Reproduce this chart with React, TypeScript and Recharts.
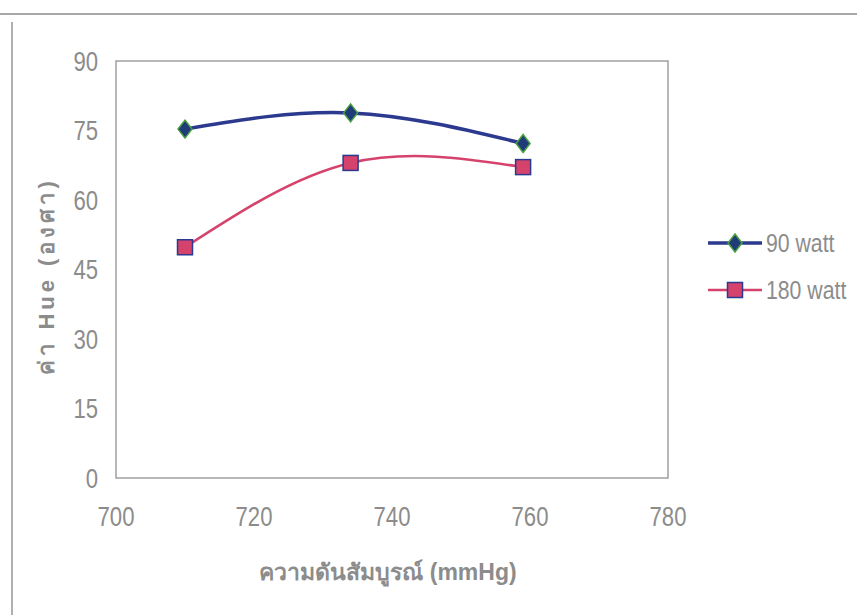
import React from "react";
import { LineChart, Line, XAxis, YAxis, ReferenceArea } from "recharts";

const pressure = [710, 734, 759];
const watt90 = [75.3, 78.8, 72.2];
const watt180 = [49.8, 68.0, 67.1];
const xTicks = [700, 720, 740, 760, 780];
const yTicks = [0, 15, 30, 45, 60, 75, 90];
const seriesNames = ["90 watt", "180 watt"];

const data = pressure.map((p, i) => ({ p, a: watt90[i], b: watt180[i] }));

const FONT = "'Liberation Sans', Arial, sans-serif";
const TFONT = "'Liberation Sans', 'Noto Sans', sans-serif";
const TXT = "#8c8c8c";
const BLUE = "#2b3a8f";
const PINK = "#d5436c";
const SQ = 0.82;

const XTick = (props: any) => {
  const { x, y, payload } = props;
  return (
    <text transform={`translate(${x},${y + 46}) scale(${SQ},1)`} textAnchor="middle" fill={TXT} fontSize={27} fontFamily={FONT}>
      {payload.value}
    </text>
  );
};

const YTick = (props: any) => {
  const { x, y, payload } = props;
  return (
    <text transform={`translate(${x - 16},${y + 9.5}) scale(${SQ},1)`} textAnchor="end" fill={TXT} fontSize={27} fontFamily={FONT}>
      {payload.value}
    </text>
  );
};

const Diamond = (props: any) => {
  const { cx, cy } = props;
  if (cx == null || cy == null) return null;
  return (
    <path
      d={`M${cx},${cy - 9} L${cx + 7},${cy} L${cx},${cy + 9} L${cx - 7},${cy} Z`}
      fill="#1f3b78"
      stroke="#4aa040"
      strokeWidth={1.5}
    />
  );
};

const Square = (props: any) => {
  const { cx, cy } = props;
  if (cx == null || cy == null) return null;
  return (
    <rect x={cx - 7.5} y={cy - 7.5} width={15} height={15} fill={PINK} stroke="#2b3a8f" strokeWidth={1.5} />
  );
};

export default function App() {
  return (
    <div style={{ position: "absolute", left: 0, top: 0, width: 857, height: 615, background: "#fff", overflow: "hidden" }}>
      <div style={{ position: "absolute", left: 0, top: 13, width: 857, height: 2, background: "#a8a8a8" }} />
      <div style={{ position: "absolute", left: 11, top: 22, width: 1.5, height: 600, background: "#b0b0b0" }} />
      <LineChart
        width={857}
        height={615}
        data={data}
        margin={{ top: 61, right: 189, bottom: 77, left: 0 }}
      >
        <XAxis
          dataKey="p"
          type="number"
          domain={[700, 780]}
          ticks={xTicks}
          axisLine={false}
          tickLine={false}
          tickSize={0}
          height={60}
          tick={<XTick />}
        />
        <YAxis
          type="number"
          domain={[0, 90]}
          ticks={yTicks}
          axisLine={false}
          tickLine={false}
          tickSize={0}
          width={116}
          tick={<YTick />}
        />
        <ReferenceArea x1={700} x2={780} y1={0} y2={90} fill="none" stroke="#a0a0a0" strokeWidth={1.5} ifOverflow="visible" />
        <Line dataKey="a" name={seriesNames[0]} type="natural" stroke={BLUE} strokeWidth={3.5} dot={<Diamond />} isAnimationActive={false} />
        <Line dataKey="b" name={seriesNames[1]} type="natural" stroke={PINK} strokeWidth={2.5} dot={<Square />} isAnimationActive={false} />
      </LineChart>
      <div
        style={{
          position: "absolute",
          left: 46,
          top: 276,
          transform: "translate(-50%, -50%) rotate(-90deg)",
          whiteSpace: "nowrap",
          color: TXT,
          fontSize: 22,
          fontFamily: TFONT,
          fontWeight: 600,
          letterSpacing: 4,
        }}
      >
        ค่า Hue (องศา)
      </div>
      <div
        style={{
          position: "absolute",
          left: 388,
          top: 572,
          transform: "translate(-50%, -50%)",
          whiteSpace: "nowrap",
          color: TXT,
          fontSize: 23,
          fontFamily: TFONT,
          fontWeight: 600,
        }}
      >
        ความดันสัมบูรณ์ (mmHg)
      </div>
      <svg style={{ position: "absolute", left: 700, top: 225 }} width={157} height={80}>
        <line x1={8} y1={18} x2={62} y2={18} stroke={BLUE} strokeWidth={3.5} />
        <Diamond cx={35} cy={18} />
        <text transform={`translate(66,27) scale(0.85,1)`} fill={TXT} fontSize={25} fontFamily={FONT}>{seriesNames[0]}</text>
        <line x1={8} y1={65} x2={62} y2={65} stroke={PINK} strokeWidth={2.5} />
        <Square cx={35} cy={65} />
        <text transform={`translate(66,74) scale(0.85,1)`} fill={TXT} fontSize={25} fontFamily={FONT}>{seriesNames[1]}</text>
      </svg>
    </div>
  );
}
